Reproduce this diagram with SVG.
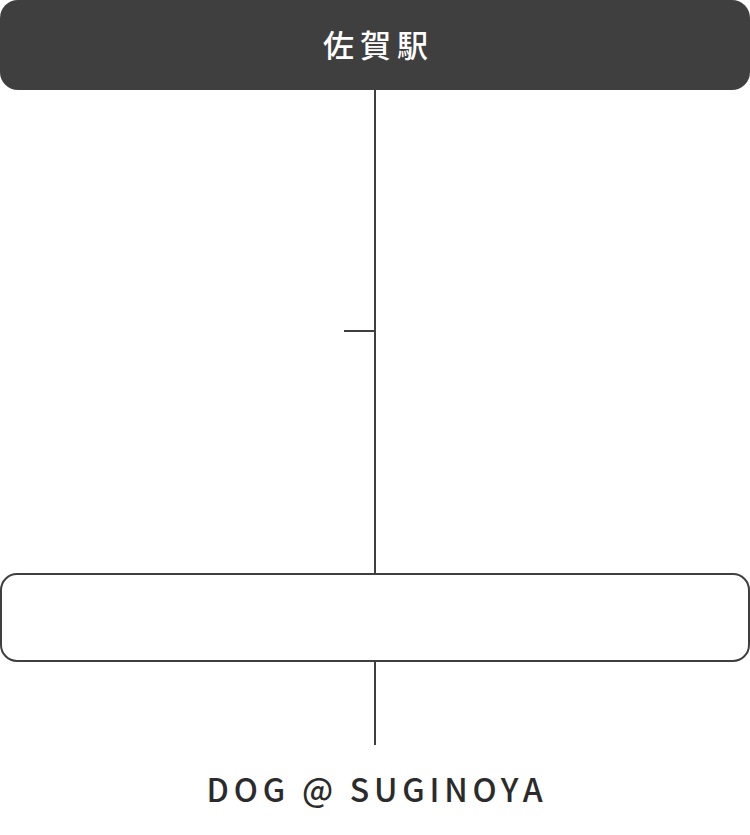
<svg xmlns="http://www.w3.org/2000/svg" width="750" height="835" viewBox="0 0 750 835">
<style>
.ln{stroke:#3f3f3f;stroke-width:2;fill:none}
.t1{font-family:"Noto Sans CJK JP","Noto Sans",sans-serif;font-size:31px;font-weight:500;fill:#ffffff;letter-spacing:6px}
.t2{font-family:"Noto Sans CJK JP","Noto Sans",sans-serif;font-size:32px;font-weight:500;fill:#2b2b2b;letter-spacing:4.8px}
</style>
<rect width="750" height="835" fill="#ffffff"/>
<g id="connectors">
<line class="ln" x1="375" y1="90" x2="375" y2="574"/>
<line class="ln" x1="344" y1="331" x2="375" y2="331"/>
<line class="ln" x1="375" y1="661" x2="375" y2="745"/>
</g>
<g id="node-saga">
<rect x="0" y="0" width="750" height="90" rx="18" fill="#3f3f3f"/>
<text class="t1" x="378.5" y="57" text-anchor="middle">佐賀駅</text>
</g>
<g id="node-box">
<rect class="ln" x="1" y="574" width="748" height="87" rx="16" fill="#ffffff"/>
</g>
<g id="node-dog">
<text class="t2" x="377" y="802" text-anchor="middle">DOG @ SUGINOYA</text>
</g>
</svg>
